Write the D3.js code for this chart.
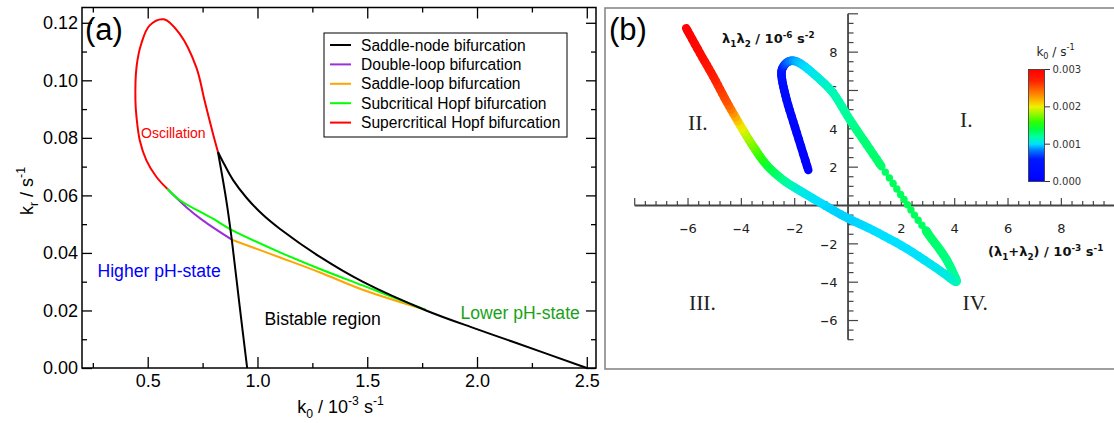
<!DOCTYPE html>
<html>
<head>
<meta charset="utf-8">
<script src="https://cdn.jsdelivr.net/npm/d3@7"></script>
<style>
body { margin: 0; background: #fff; }
</style>
</head>
<body>
<svg width="1114" height="423"></svg>
<script>
// ---- panel (a): bifurcation curves, k0 in 10^-3 s^-1, kr in s^-1 ----
var supHopfK0 = [0.820, 0.797, 0.759, 0.721, 0.645, 0.574, 0.509, 0.471, 0.449, 0.444, 0.449, 0.464, 0.494, 0.540, 0.589];
var supHopfKr = [0.0751, 0.0815, 0.0930, 0.1046, 0.1162, 0.1212, 0.1191, 0.1128, 0.1046, 0.0930, 0.0872, 0.0791, 0.0722, 0.0664, 0.0623];
var saddleNodeAK0 = [0.820, 0.858, 0.883, 0.918, 0.953];
var saddleNodeAKr = [0.0751, 0.0583, 0.0446, 0.0220, 0.0];
var saddleNodeBK0 = [0.820, 0.848, 0.889, 0.951, 1.021, 1.103, 1.285, 1.481, 1.768, 1.996, 2.160, 2.500];
var saddleNodeBKr = [0.0751, 0.0709, 0.0653, 0.0591, 0.0535, 0.0483, 0.0386, 0.0299, 0.0200, 0.0136, 0.0092, 0.0];
var subHopfK0 = [0.589, 0.645, 0.797, 0.873, 1.100, 1.282, 1.479, 1.767];
var subHopfKr = [0.0623, 0.0584, 0.0519, 0.0484, 0.0403, 0.0345, 0.0287, 0.0202];
var doubleLoopK0 = [0.589, 0.676, 0.751, 0.883];
var doubleLoopKr = [0.0623, 0.0559, 0.0513, 0.0446];
var saddleLoopK0 = [0.883, 1.100, 1.282, 1.479, 1.767];
var saddleLoopKr = [0.0446, 0.0385, 0.0333, 0.0272, 0.0202];

var legendNames = ["Saddle-node bifurcation", "Double-loop bifurcation", "Saddle-loop bifurcation",
                   "Subcritical Hopf bifurcation", "Supercritical Hopf bifurcation"];
var legendColors = ["#000000", "#9b30d9", "#ffa500", "#00ff00", "#ff0000"];

var xTicksA = [0.5, 1.0, 1.5, 2.0, 2.5];
var xMinorA = [0.25, 0.75, 1.25, 1.75, 2.25];
var yTicksA = [0, 0.02, 0.04, 0.06, 0.08, 0.10, 0.12];
var yMinorA = [0.01, 0.03, 0.05, 0.07, 0.09, 0.11];

// ---- panel (b): (l1+l2) in 10^-3 s^-1, l1*l2 in 10^-6 s^-2, coloured by k0 in s^-1 ----
var pathOneSum  = [-1.49, -1.92, -2.30, -2.49, -2.43, -2.17, -1.80, -1.17, -0.55, 0.075, 0.58, 1.25];
var pathOneProd = [1.85, 3.77, 5.50, 6.72, 7.24, 7.54, 7.42, 6.72, 5.85, 4.46, 3.42, 2.05];
var pathOneK0   = [0.00002, 0.0001, 0.0002, 0.0004, 0.0006, 0.00082, 0.00095, 0.00105, 0.00115, 0.00122, 0.00128, 0.00132];
var dotSum  = [1.40, 1.55, 1.69, 1.83, 1.97, 2.10, 2.23, 2.36, 2.49, 2.63, 2.77, 2.92];
var dotProd = [1.74, 1.44, 1.15, 0.86, 0.58, 0.31, 0.04, -0.23, -0.50, -0.77, -1.03, -1.30];
var dotK0   = [0.00133, 0.00134, 0.00135, 0.00135, 0.00135, 0.00135, 0.00135, 0.00135, 0.00134, 0.00134, 0.00133, 0.00133];
var pathTwoSum  = [2.92, 3.08, 3.40, 3.70, 3.92, 4.05, 3.45, 2.20, 0.95, 0.00, -0.86, -1.80, -2.43, -3.05, -3.55, -4.05, -4.55, -5.05, -5.55, -6.07];
var pathTwoProd = [-1.30, -1.63, -2.22, -2.84, -3.45, -3.98, -3.40, -2.25, -1.30, -0.67, 0.00, 0.77, 1.33, 2.11, 3.07, 4.20, 5.41, 6.72, 7.94, 9.25];
var pathTwoK0   = [0.00133, 0.00132, 0.0013, 0.00127, 0.00124, 0.0012, 0.00105, 0.0010, 0.0010, 0.00098, 0.00098, 0.00105, 0.0012, 0.0014, 0.0017, 0.0020, 0.0025, 0.0027, 0.0029, 0.0030];

var xTicksB = [-6, -4, -2, 2, 4, 6, 8];
var yTicksB = [8, 6, 4, 2, -2, -4, -6];
var colorbarTicks = [0, 0.001, 0.002, 0.003];
var colorStops = [0, 0.0006, 0.00085, 0.001, 0.0012, 0.0014, 0.0016, 0.002, 0.0023, 0.0027, 0.003];
var colorValues = ["#0000ff", "#0018ff", "#0080ff", "#00e0ff", "#00ffa0", "#00ff40", "#30ff00", "#f0f000", "#ff9000", "#ff2000", "#ff0000"];

var svg = d3.select("svg");
var sansA = "'Liberation Sans', Arial, sans-serif";
var sansB = "'DejaVu Sans', sans-serif";

// text with sub/superscripts
function rich(sel, parts, size) {
  var off = 0;
  parts.forEach(function(p) {
    var target = p[1] == "sub" ? size * 0.3 : p[1] == "sup" ? -size * 0.42 : 0;
    sel.append("tspan")
      .attr("dy", target - off)
      .style("font-size", (p[1] ? size * 0.68 : size) + "px")
      .text(p[0]);
    off = target;
  });
}

/** panel (a) **/
var xa = d3.scaleLinear().domain([0.2, 2.542]).range([81.85, 596]);
var ya = d3.scaleLinear().domain([0, 0.125]).range([368, 8.4]);

var ga = svg.append("g").style("font-family", sansA);

function styleAxis(g, size) {
  g.select(".domain").remove();
  g.selectAll("line").attr("stroke", "#000").attr("stroke-width", 1.3);
  g.selectAll("text").style("font-family", sansA).style("font-size", size + "px").attr("fill", "#000");
}

ga.append("g").attr("transform", "translate(0,368)")
  .call(d3.axisBottom(xa).tickValues(xTicksA).tickSize(-11).tickPadding(6).tickFormat(d3.format(".1f")))
  .call(styleAxis, 18);
ga.append("g").attr("transform", "translate(0,368)")
  .call(d3.axisBottom(xa).tickValues(xMinorA).tickSize(-5).tickFormat(""))
  .call(styleAxis, 18);
ga.append("g").attr("transform", "translate(0,7.5)")
  .call(d3.axisTop(xa).tickValues(xTicksA).tickSize(-11).tickFormat(""))
  .call(styleAxis, 18);
ga.append("g").attr("transform", "translate(0,7.5)")
  .call(d3.axisTop(xa).tickValues(xMinorA).tickSize(-5).tickFormat(""))
  .call(styleAxis, 18);
ga.append("g").attr("transform", "translate(82,0)")
  .call(d3.axisLeft(ya).tickValues(yTicksA).tickSize(-10).tickPadding(4).tickFormat(d3.format(".2f")))
  .call(styleAxis, 18);
ga.append("g").attr("transform", "translate(82,0)")
  .call(d3.axisLeft(ya).tickValues(yMinorA).tickSize(-5).tickFormat(""))
  .call(styleAxis, 18);
ga.append("g").attr("transform", "translate(596,0)")
  .call(d3.axisRight(ya).tickValues(yTicksA).tickSize(-10).tickFormat(""))
  .call(styleAxis, 18);
ga.append("g").attr("transform", "translate(596,0)")
  .call(d3.axisRight(ya).tickValues(yMinorA).tickSize(-5).tickFormat(""))
  .call(styleAxis, 18);

var lineA = d3.line()
  .x(function(d) { return xa(d[0]); })
  .y(function(d) { return ya(d[1]); })
  .curve(d3.curveCatmullRom.alpha(0.5));

var curvesA = [
  [saddleLoopK0, saddleLoopKr, legendColors[2]],
  [doubleLoopK0, doubleLoopKr, legendColors[1]],
  [subHopfK0, subHopfKr, legendColors[3]],
  [supHopfK0, supHopfKr, legendColors[4]],
  [saddleNodeAK0, saddleNodeAKr, legendColors[0]],
  [saddleNodeBK0, saddleNodeBKr, legendColors[0]]
];
curvesA.forEach(function(c) {
  ga.append("path")
    .datum(d3.zip(c[0], c[1]))
    .attr("d", lineA)
    .attr("fill", "none")
    .attr("stroke", c[2])
    .attr("stroke-width", 2);
});

ga.append("rect").attr("x", 82).attr("y", 7.5).attr("width", 514).attr("height", 360.5)
  .attr("fill", "none").attr("stroke", "#000").attr("stroke-width", 1.5);

// legend
var leg = ga.append("g");
leg.append("rect").attr("x", 324).attr("y", 33).attr("width", 243).attr("height", 104)
  .attr("fill", "#fff").attr("stroke", "#000").attr("stroke-width", 1);
legendNames.forEach(function(name, i) {
  var cy = 45 + i * 19.4;
  leg.append("line").attr("x1", 330).attr("x2", 351).attr("y1", cy).attr("y2", cy)
    .attr("stroke", legendColors[i]).attr("stroke-width", 2);
  leg.append("text").attr("x", 361).attr("y", cy + 5.5).style("font-size", "15.6px").text(name);
});

// region labels
ga.append("text").attr("x", 141).attr("y", 137.5).attr("fill", "#ff0000").style("font-size", "14px").text("Oscillation");
ga.append("text").attr("x", 97.5).attr("y", 277).attr("fill", "#0000ff").style("font-size", "17.6px").text("Higher pH-state");
ga.append("text").attr("x", 264.5).attr("y", 325).attr("fill", "#000").style("font-size", "17.6px").text("Bistable region");
ga.append("text").attr("x", 460.5).attr("y", 319).attr("fill", "#17a317").style("font-size", "17.6px").text("Lower pH-state");

ga.append("text").attr("x", 85).attr("y", 39.5).style("font-size", "31px").text("(a)");

ga.append("text").attr("transform", "translate(33,191) rotate(-90)").attr("text-anchor", "middle")
  .call(rich, [["k", ""], ["r", "sub"], [" / s", ""], ["-1", "sup"]], 18);
ga.append("text").attr("x", 340.5).attr("y", 413).attr("text-anchor", "middle")
  .call(rich, [["k", ""], ["0", "sub"], [" / 10", ""], ["-3", "sup"], [" s", ""], ["-1", "sup"]], 18);

/** panel (b) **/
var xb = d3.scaleLinear().domain([-8, 10]).range([634.7, 1114.7]);
var yb = d3.scaleLinear().domain([-7, 10]).range([339.7, 13.8]);
var color = d3.scaleLinear().domain(colorStops).range(colorValues);

var gb = svg.append("g").style("font-family", sansB);

gb.append("rect").attr("x", 605).attr("y", 8).attr("width", 530).attr("height", 361)
  .attr("fill", "none").attr("stroke", "#888").attr("stroke-width", 1.6);

var axisColor = "#444";
var x0 = xb(0), y0 = yb(0);

// x axis with upward ticks
gb.append("line").attr("x1", xb(-8)).attr("x2", xb(10)).attr("y1", y0).attr("y2", y0)
  .attr("stroke", axisColor).attr("stroke-width", 1.8);
gb.append("g").selectAll("line")
  .data(d3.range(-8, 10.01, 0.4))
  .enter().append("line")
  .attr("x1", function(d) { return xb(d); })
  .attr("x2", function(d) { return xb(d); })
  .attr("y1", y0)
  .attr("y2", function(d) { return Math.abs(d / 2 - Math.round(d / 2)) < 1e-6 ? y0 - 7.5 : y0 - 4.5; })
  .attr("stroke", axisColor).attr("stroke-width", 1.2);

// y axis with ticks to the right
gb.append("line").attr("x1", x0).attr("x2", x0).attr("y1", yb(10)).attr("y2", yb(-7))
  .attr("stroke", axisColor).attr("stroke-width", 1.8);
gb.append("g").selectAll("line")
  .data(d3.range(-7, 10.01, 0.5))
  .enter().append("line")
  .attr("x1", x0)
  .attr("x2", function(d) { return Math.abs(d / 2 - Math.round(d / 2)) < 1e-6 ? x0 + 10 : x0 + 5.5; })
  .attr("y1", function(d) { return yb(d); })
  .attr("y2", function(d) { return yb(d); })
  .attr("stroke", axisColor).attr("stroke-width", 1.2);

function signedLabel(sel) {
  sel.each(function(d) {
    var t = d3.select(this);
    if (d < 0) t.append("tspan").style("font-weight", "bold").style("font-size", "11px").text("\u2212");
    t.append("tspan").text(Math.abs(d));
  });
}

gb.append("g").selectAll("text")
  .data(xTicksB)
  .enter().append("text")
  .attr("x", function(d) { return xb(d); })
  .attr("y", y0 + 27)
  .attr("text-anchor", "middle")
  .attr("fill", "#222")
  .style("font-size", "13px")
  .call(signedLabel);

gb.append("g").selectAll("text")
  .data(yTicksB)
  .enter().append("text")
  .attr("x", x0 - 10.5)
  .attr("y", function(d) { return yb(d) + 4.7; })
  .attr("text-anchor", "end")
  .attr("fill", "#222")
  .style("font-size", "13px")
  .call(signedLabel);

// coloured trajectory: smooth Catmull-Rom beziers, each one split in short
// pieces so the k0 colour changes gradually along the stroke
function bez(a, b, c, d, t) {
  var u = 1 - t;
  return u * u * u * a + 3 * u * u * t * b + 3 * u * t * t * c + t * t * t * d;
}
function drawSegments(sums, prods, k0s) {
  var pts = d3.zip(sums, prods, k0s).map(function(d) { return [xb(d[0]), yb(d[1]), d[2]]; });
  var n = pts.length, steps = 6;
  var pieces = [];
  for (var i = 0; i < n - 1; i++) {
    var p0 = pts[Math.max(i - 1, 0)], p1 = pts[i], p2 = pts[i + 1], p3 = pts[Math.min(i + 2, n - 1)];
    var c1 = [p1[0] + (p2[0] - p0[0]) / 6, p1[1] + (p2[1] - p0[1]) / 6];
    var c2 = [p2[0] - (p3[0] - p1[0]) / 6, p2[1] - (p3[1] - p1[1]) / 6];
    for (var s = 0; s < steps; s++) {
      var ta = s / steps, tb = (s + 1) / steps;
      pieces.push({
        x1: bez(p1[0], c1[0], c2[0], p2[0], ta), y1: bez(p1[1], c1[1], c2[1], p2[1], ta),
        x2: bez(p1[0], c1[0], c2[0], p2[0], tb), y2: bez(p1[1], c1[1], c2[1], p2[1], tb),
        k: p1[2] + (p2[2] - p1[2]) * (ta + tb) / 2
      });
    }
  }
  gb.append("g").selectAll("line")
    .data(pieces)
    .enter().append("line")
    .attr("x1", function(p) { return p.x1; })
    .attr("y1", function(p) { return p.y1; })
    .attr("x2", function(p) { return p.x2; })
    .attr("y2", function(p) { return p.y2; })
    .attr("stroke", function(p) { return color(p.k); })
    .attr("stroke-width", 8.5)
    .attr("stroke-linecap", "round");
}
drawSegments(pathOneSum, pathOneProd, pathOneK0);
gb.append("g").selectAll("circle")
  .data(d3.zip(dotSum, dotProd, dotK0))
  .enter().append("circle")
  .attr("cx", function(d) { return xb(d[0]); })
  .attr("cy", function(d) { return yb(d[1]); })
  .attr("r", 3.7)
  .attr("fill", function(d) { return color(d[2]); });
drawSegments(pathTwoSum, pathTwoProd, pathTwoK0);

// quadrant labels
var serif = "'Liberation Serif', 'DejaVu Serif', serif";
[["I.", 960, 126.7], ["II.", 688, 130], ["III.", 689, 310], ["IV.", 962.5, 309.5]].forEach(function(q) {
  gb.append("text").attr("x", q[1]).attr("y", q[2]).style("font-family", serif)
    .style("font-size", "21.5px").attr("fill", "#222").text(q[0]);
});

gb.append("text").attr("x", 609).attr("y", 39.5).style("font-family", sansA).style("font-size", "31px").text("(b)");

gb.append("text").attr("x", 722).attr("y", 43.3).style("font-weight", "bold").attr("fill", "#111")
  .call(rich, [["\u03bb", ""], ["1", "sub"], ["\u03bb", ""], ["2", "sub"], [" / 10", ""], ["-6", "sup"], [" s", ""], ["-2", "sup"]], 13);
gb.append("text").attr("x", 988).attr("y", 256).style("font-weight", "bold").attr("fill", "#111")
  .call(rich, [["(\u03bb", ""], ["1", "sub"], ["+\u03bb", ""], ["2", "sub"], [") / 10", ""], ["-3", "sup"], [" s", ""], ["-1", "sup"]], 13);

// colour bar
var cb = d3.scaleLinear().domain([0, 0.003]).range([181.5, 69.5]);
var grad = svg.append("defs").append("linearGradient").attr("id", "k0grad")
  .attr("x1", 0).attr("x2", 0).attr("y1", 1).attr("y2", 0);
grad.selectAll("stop")
  .data(colorStops)
  .enter().append("stop")
  .attr("offset", function(d) { return d / 0.003; })
  .attr("stop-color", function(d) { return color(d); });
gb.append("rect").attr("x", 1028.5).attr("y", cb(0.003)).attr("width", 16).attr("height", cb(0) - cb(0.003))
  .attr("fill", "url(#k0grad)").attr("stroke", "#333").attr("stroke-width", 0.8);
gb.append("g").selectAll("line")
  .data(colorbarTicks)
  .enter().append("line")
  .attr("x1", 1044.5).attr("x2", 1050)
  .attr("y1", function(d) { return cb(d); }).attr("y2", function(d) { return cb(d); })
  .attr("stroke", "#333").attr("stroke-width", 1);
gb.append("g").selectAll("text")
  .data(colorbarTicks)
  .enter().append("text")
  .attr("x", 1052.5)
  .attr("y", function(d) { return cb(d) + 3.6; })
  .attr("fill", "#333")
  .style("font-size", "10px")
  .text(d3.format(".3f"));
gb.append("text").attr("x", 1055.5).attr("y", 55.5).attr("text-anchor", "middle").attr("fill", "#222")
  .call(rich, [["k", ""], ["0", "sub"], [" / s", ""], ["-1", "sup"]], 12);
</script>
</body>
</html>
